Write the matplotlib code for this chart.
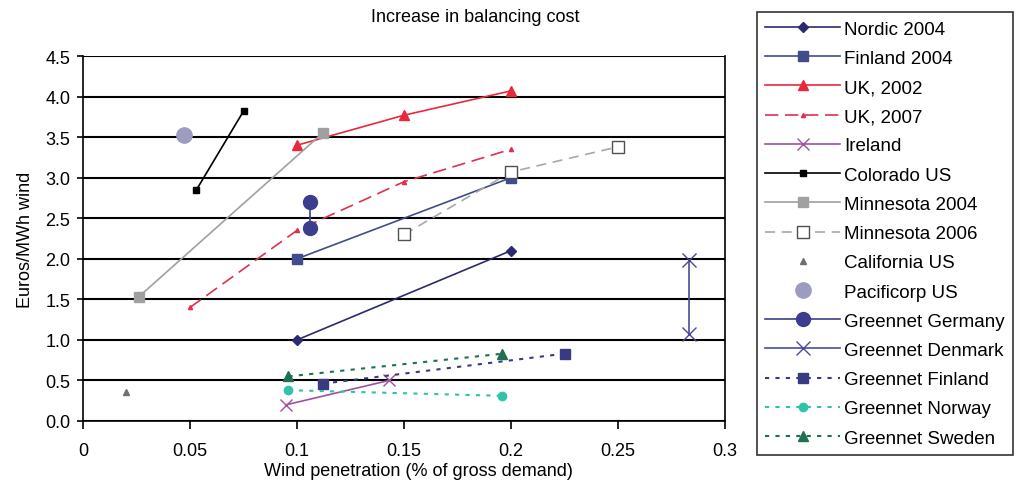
import matplotlib
matplotlib.use("Agg")
import matplotlib.pyplot as plt

plt.rcParams['font.family'] = ['Liberation Sans', 'DejaVu Sans']

title = "Increase in balancing cost"
xlabel = "Wind penetration (% of gross demand)"
ylabel = "Euros/MWh wind"

nordic_x = [0.1, 0.2];                 nordic_y = [1.0, 2.1]
finland_x = [0.1, 0.2];                finland_y = [2.0, 3.0]
uk02_x = [0.1, 0.15, 0.2];             uk02_y = [3.4, 3.77, 4.07]
uk07_x = [0.05, 0.1, 0.15, 0.2];       uk07_y = [1.4, 2.35, 2.95, 3.35]
ireland_x = [0.095, 0.143];            ireland_y = [0.2, 0.5]
colorado_x = [0.053, 0.075];           colorado_y = [2.85, 3.82]
minn04_x = [0.026, 0.112];             minn04_y = [1.53, 3.55]
minn06_x = [0.15, 0.2, 0.25];          minn06_y = [2.3, 3.07, 3.38]
calif_x = [0.02];                      calif_y = [0.36]
pacifi_x = [0.047];                    pacifi_y = [3.53]
gger_x = [0.106, 0.106];               gger_y = [2.38, 2.7]
gden_x = [0.283, 0.283];               gden_y = [1.07, 1.98]
gfin_x = [0.112, 0.225];               gfin_y = [0.46, 0.83]
gnor_x = [0.096, 0.196];               gnor_y = [0.38, 0.31]
gswe_x = [0.096, 0.196];               gswe_y = [0.55, 0.83]

xticks = [0, 0.05, 0.1, 0.15, 0.2, 0.25, 0.3]
xticklabels = ["0", "0.05", "0.1", "0.15", "0.2", "0.25", "0.3"]
yticks = [0.0, 0.5, 1.0, 1.5, 2.0, 2.5, 3.0, 3.5, 4.0, 4.5]

FS = 13

fig = plt.figure(figsize=(10.19, 4.89), dpi=100)
ax = fig.add_axes([83/1019, 1-422/489, (725-83)/1019, (422-57)/489])

for y in yticks:
    ax.axhline(y, color='black', lw=1.5, zorder=0)

ax.plot(nordic_x, nordic_y, color='#2B2A6E', marker='D', ms=5, lw=1.2, label='Nordic 2004')
ax.plot(finland_x, finland_y, color='#3F4D8C', marker='s', ms=7, lw=1.2, label='Finland 2004')
ax.plot(uk02_x, uk02_y, color='#E8283C', marker='^', ms=7, lw=1.2, label='UK, 2002')
ax.plot(uk07_x, uk07_y, color='#E03050', marker='^', ms=3, lw=1.2, dashes=(8, 4), label='UK, 2007')
ax.plot(ireland_x, ireland_y, color='#A050A0', marker='x', ms=9, lw=1.2, label='Ireland')
ax.plot(colorado_x, colorado_y, color='black', marker='s', ms=5, lw=1.2, label='Colorado US')
ax.plot(minn04_x, minn04_y, color='#A0A0A0', marker='s', ms=7, lw=1.2, label='Minnesota 2004')
ax.plot(minn06_x, minn06_y, color='#A8A8A8', marker='s', ms=9, mfc='white', mec='#505050',
        lw=1.2, dashes=(6, 4), label='Minnesota 2006')
ax.plot(calif_x, calif_y, color='#707070', marker='^', ms=5, lw=0, label='California US')
ax.plot(pacifi_x, pacifi_y, color='#9C9CC0', marker='o', ms=11, lw=0, label='Pacificorp US')
ax.plot(gger_x, gger_y, color='#3D3D8F', marker='o', ms=10, lw=1.2, label='Greennet Germany')
ax.plot(gden_x, gden_y, color='#4A4A9A', marker='x', ms=10, lw=1.2, label='Greennet Denmark')
ax.plot(gfin_x, gfin_y, color='#3A3A80', marker='s', ms=7, lw=1.5, ls=(0, (2, 3)), label='Greennet Finland')
ax.plot(gnor_x, gnor_y, color='#2EC4A8', marker='o', ms=6, lw=1.5, ls=(0, (2, 3)), label='Greennet Norway')
ax.plot(gswe_x, gswe_y, color='#1F6F50', marker='^', ms=7, lw=1.5, ls=(0, (2, 3)), label='Greennet Sweden')

ax.set_xlim(0, 0.3)
ax.set_ylim(0, 4.5)
ax.set_xticks(xticks)
ax.set_xticklabels(xticklabels, fontsize=FS)
ax.set_yticks(yticks)
ax.set_yticklabels([f"{v:.1f}" for v in yticks], fontsize=FS)
ax.tick_params(axis='x', direction='out', length=6, width=1.2, pad=9)
ax.tick_params(axis='y', direction='out', length=4, width=1.2, pad=5)
for s in ['left', 'right', 'bottom']:
    ax.spines[s].set_linewidth(1.2)
ax.spines['top'].set_visible(False)
ax.set_xlabel(xlabel, fontsize=FS)
ax.xaxis.set_label_coords((418-83)/642, -(472-422)/365, transform=ax.transAxes)
ax.xaxis.label.set_va('center')
ax.set_ylabel(ylabel, fontsize=FS, labelpad=8)

fig.text(475/1019, 1-18/489, title, ha='center', va='center', fontsize=FS)

leg = ax.legend(loc='upper left', bbox_to_anchor=(757/1019, 1-13/489),
                bbox_transform=fig.transFigure, fontsize=13.5, frameon=True,
                fancybox=False, edgecolor='black', handlelength=4.0,
                labelspacing=0.645, borderpad=0.45, handletextpad=0.2,
                borderaxespad=0)
leg.get_frame().set_linewidth(1.2)

fig.savefig("out.png", dpi=100)
